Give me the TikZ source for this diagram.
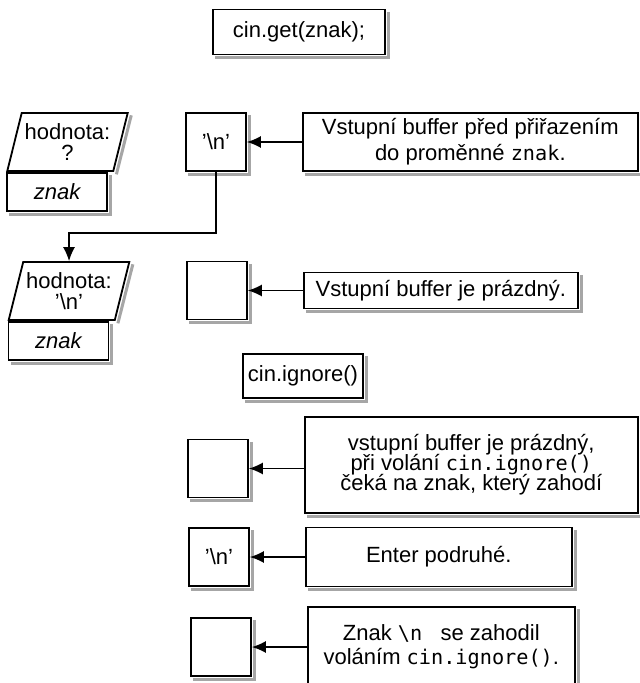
\documentclass[tikz,border=0pt]{standalone}
\usepackage{fontspec}
\setmainfont{Liberation Sans}
\setmonofont{DejaVu Sans Mono}[Scale=0.92]
\usepackage{tikz}
\usetikzlibrary{arrows.meta,shapes.geometric,positioning}

\newcommand{\boxfont}{\fontsize{11}{13}\selectfont}

\begin{document}
\begin{tikzpicture}[x=0.5pt, y=-0.5pt, node distance=27.5pt, font=\boxfont, >={Latex[length=7pt,width=6pt]}]
        % stijlen voor de knopen
        \tikzstyle{code} = [rectangle, draw=black, line width=0.9pt, fill=white, text centered, inner sep=2pt]
        \tikzstyle{buffer} = [rectangle, draw=black, line width=0.9pt, fill=white, minimum width=30pt, minimum height=29pt, inner sep=0pt]
        \tikzstyle{note} = [rectangle, draw=black, line width=0.9pt, fill=white, align=center, inner sep=2pt]
        \tikzstyle{value} = [trapezium, trapezium left angle=71, trapezium right angle=109, trapezium stretches=true, draw=black, line width=0.9pt, fill=white, minimum width=60.5pt, minimum height=29pt, align=center, inner sep=1pt]
        \tikzstyle{varname} = [rectangle, draw=black, line width=0.9pt, fill=white, minimum width=50pt, minimum height=19pt, inner sep=0pt, font=\boxfont\itshape]
        \tikzstyle{arrow} = [line width=0.7pt, ->]
        \tikzstyle{boxshadow} = [draw=black!35, line width=1.5pt]

        \useasboundingbox (0,0) rectangle (639,683);

        % cin.get
        \node (get) [code, minimum width=86pt, minimum height=22.5pt] at (299,32) {cin.get(znak);};

        \node (val1) [value] at (67.5,142) {hodnota:\\[-2.5pt]?};
        \node (nam1) [varname, anchor=north west] at (val1.bottom left corner) {znak};
        \node (buf1) [buffer] at (216,142) {’\textbackslash n’};
        \node (txt1) [note, right=of buf1, minimum width=167.5pt, minimum height=29pt] {Vstupní buffer před přiřazením\\do proměnné \texttt{znak}.};

        \node (val2) [value] at (69,291) {hodnota:\\[-2.5pt]’\textbackslash n’};
        \node (nam2) [varname, anchor=north west] at (val2.bottom left corner) {znak};
        \node (buf2) [buffer] at (217,290.5) {};
        \node (txt2) [note, right=of buf2, minimum width=137pt, minimum height=18pt] {Vstupní buffer je prázdný.};

        % cin.ignore
        \node (ign) [code, minimum width=60pt, minimum height=22pt] at (303,376) {cin.ignore()};

        \node (buf3) [buffer] at (218,468.5) {};
        \node (txt3) [note, right=of buf3, yshift=1.75pt, minimum width=166.5pt, minimum height=48pt] {vstupní buffer je prázdný,\\[-3pt]při volání \texttt{cin.ignore()}\\[-3pt]čeká na znak, který zahodí};
        \node (buf4) [buffer] at (219,557) {’\textbackslash n’};
        \node (txt4) [note, right=of buf4, minimum width=133pt, minimum height=29.5pt] {Enter podruhé.};
        \node (buf5) [buffer] at (221,647) {};
        \node (txt5) [note, right=of buf5, minimum width=133.5pt, minimum height=40pt] {Znak \texttt{\textbackslash n\ } se zahodil\\[-1pt]voláním \texttt{cin.ignore()}.};

        % schaduwranden rechts en onder
        \foreach \b in {get,nam1,buf1,txt1,nam2,buf2,txt2,ign,buf3,txt3,buf4,txt4,buf5,txt5}
            \draw [boxshadow] ([xshift=1.2pt,yshift=-1.6pt]\b.north east) -- ([xshift=1.2pt,yshift=-1.2pt]\b.south east) -- ([xshift=1.6pt,yshift=-1.2pt]\b.south west);
        \draw [boxshadow] ([xshift=1.2pt,yshift=-1.6pt]val1.top right corner) -- ([xshift=1.2pt,yshift=-1.2pt]val1.bottom right corner);
        \draw [boxshadow] ([xshift=1.2pt,yshift=-1.6pt]val2.top right corner) -- ([xshift=1.2pt,yshift=-1.2pt]val2.bottom right corner);

        % pijlen
        \draw [arrow] (txt1.west) -- (buf1.east);
        \draw [arrow] (buf1.south) -- ++(0,61) -| (val2.north);
        \draw [arrow] (txt2.west) -- (buf2.east);
        \draw [arrow] (txt3.west |- buf3.east) -- (buf3.east);
        \draw [arrow] (txt4.west) -- (buf4.east);
        \draw [arrow] (txt5.west) -- (buf5.east);

    \end{tikzpicture}
\end{document}
